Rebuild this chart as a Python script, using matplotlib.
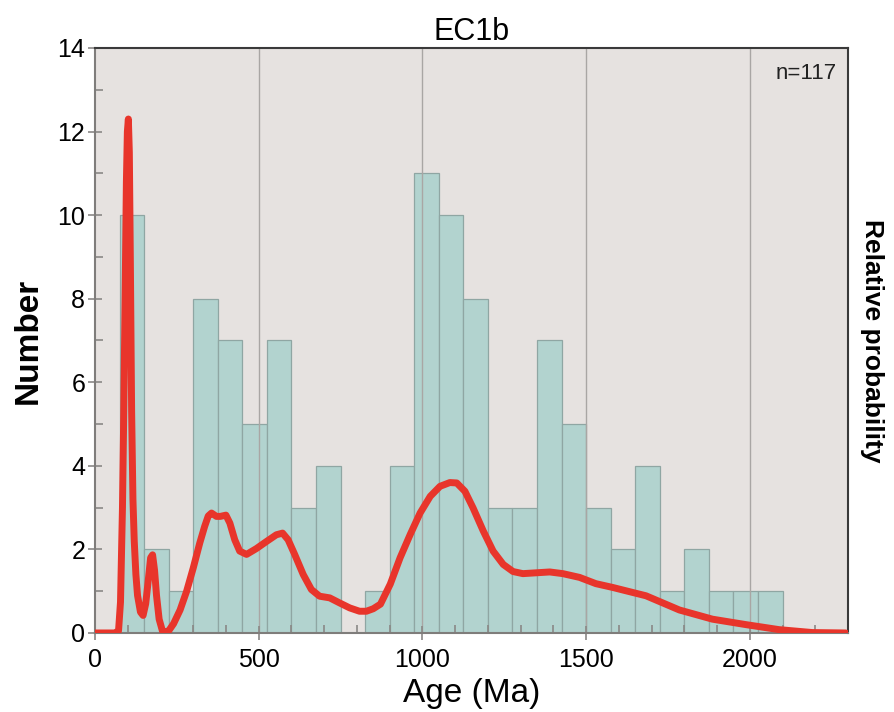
import numpy as np
import matplotlib
matplotlib.use('Agg')
import matplotlib.pyplot as plt
from matplotlib.ticker import MultipleLocator

plt.rcParams['font.family'] = ['Liberation Sans', 'DejaVu Sans']

# histogram: 75 Ma bins from 75 to 2100 Ma
bin_edges = [75 + 75 * i for i in range(28)]
counts = [10, 2, 1, 8, 7, 5, 7, 3, 4, 0, 1, 4, 11, 10, 8,
          3, 3, 7, 5, 3, 2, 4, 1, 2, 1, 1, 1]

# probability curve (age, height on count scale)
curve_age = [0, 60, 72, 78, 84, 88, 92, 96, 99, 102, 105, 108, 112, 116, 120,
             125, 130, 139, 147, 155, 162, 170, 176, 182, 188, 196, 206, 215,
             225, 240, 260, 280, 300, 320, 335, 346, 356, 371, 383, 400, 412,
             427, 442, 463, 493, 524, 554, 573, 590, 610, 636, 661, 686, 717,
             747, 778, 808, 829, 850, 872, 902, 932, 963, 993, 1024, 1054,
             1084, 1105, 1130, 1155, 1186, 1216, 1247, 1277, 1307, 1348, 1389,
             1429, 1480, 1530, 1581, 1642, 1683, 1734, 1785, 1886, 1988, 2089,
             2191, 2293]
curve_val = [0, 0, 0.05, 0.74, 3.0, 5.3, 8.0, 10.8, 12.0, 12.3, 11.5, 9.0, 5.3,
             3.2, 2.2, 1.4, 0.9, 0.5, 0.42, 0.7, 1.2, 1.8, 1.87, 1.5, 0.9, 0.33,
             0.05, 0.02, 0.05, 0.22, 0.55, 1.0, 1.55, 2.15, 2.55, 2.8, 2.87,
             2.79, 2.79, 2.82, 2.63, 2.23, 1.96, 1.88, 2.02, 2.19, 2.35, 2.39,
             2.23, 1.88, 1.4, 1.04, 0.88, 0.84, 0.72, 0.6, 0.52, 0.52, 0.58,
             0.69, 1.17, 1.8, 2.36, 2.87, 3.27, 3.51, 3.6, 3.59, 3.39, 2.99,
             2.44, 1.96, 1.64, 1.47, 1.42, 1.44, 1.46, 1.42, 1.33, 1.18, 1.09,
             0.97, 0.89, 0.72, 0.55, 0.33, 0.2, 0.08, 0.01, 0]

n_label = 'n=117'

fig = plt.figure(figsize=(8.95, 7.12), dpi=100)
ax = fig.add_axes([0.1061, 0.111, 0.8414, 0.8216])
ax.set_facecolor('#e6e2e0')

ax.bar(bin_edges[:-1], counts, width=75, align='edge', color='#b2d3cf',
       edgecolor='#8fa6a3', linewidth=0.9, zorder=1)
for gx in [500, 1000, 1500, 2000]:
    ax.axvline(gx, color='#a9a6a4', linewidth=1.0, zorder=1.5)

ax.set_xlim(0, 2300)
ax.set_ylim(0, 14)
ax.xaxis.set_major_locator(MultipleLocator(500))
ax.xaxis.set_minor_locator(MultipleLocator(100))
ax.yaxis.set_major_locator(MultipleLocator(2))
ax.yaxis.set_minor_locator(MultipleLocator(1))
ax.tick_params(which='major', direction='inout', length=10, width=1.2,
               color='#8a8886', labelsize=18, pad=2)
ax.tick_params(which='minor', direction='in', length=6, width=1.2, color='#8a8886')
ax.tick_params(axis='x', which='major', pad=6)

for s in ['left', 'bottom']:
    ax.spines[s].set_color('#7f7d7b')
    ax.spines[s].set_linewidth(1.5)
for s in ['top', 'right']:
    ax.spines[s].set_color('#3a3a3a')
    ax.spines[s].set_linewidth(1.5)

ax.set_xlabel('Age (Ma)', fontsize=24, labelpad=4)
ax.set_ylabel('Number', fontsize=24, fontweight='bold', labelpad=10)
ax.set_title('EC1b', fontsize=22, pad=6)
ax.text(0.985, 0.975, n_label, transform=ax.transAxes, ha='right', va='top',
        fontsize=16, color='#222222')

ax2 = ax.twinx()
ax2.plot(curve_age, curve_val, color='#e8352b', linewidth=5.0,
         solid_capstyle='round', solid_joinstyle='round', zorder=3)
ax2.set_ylim(0, 14)
ax2.set_yticks([])
ax2.set_ylabel('Relative probability', fontsize=19, fontweight='bold',
               rotation=270, labelpad=26)
for s in ax2.spines.values():
    s.set_visible(False)

fig.savefig('out.png', dpi=100)
